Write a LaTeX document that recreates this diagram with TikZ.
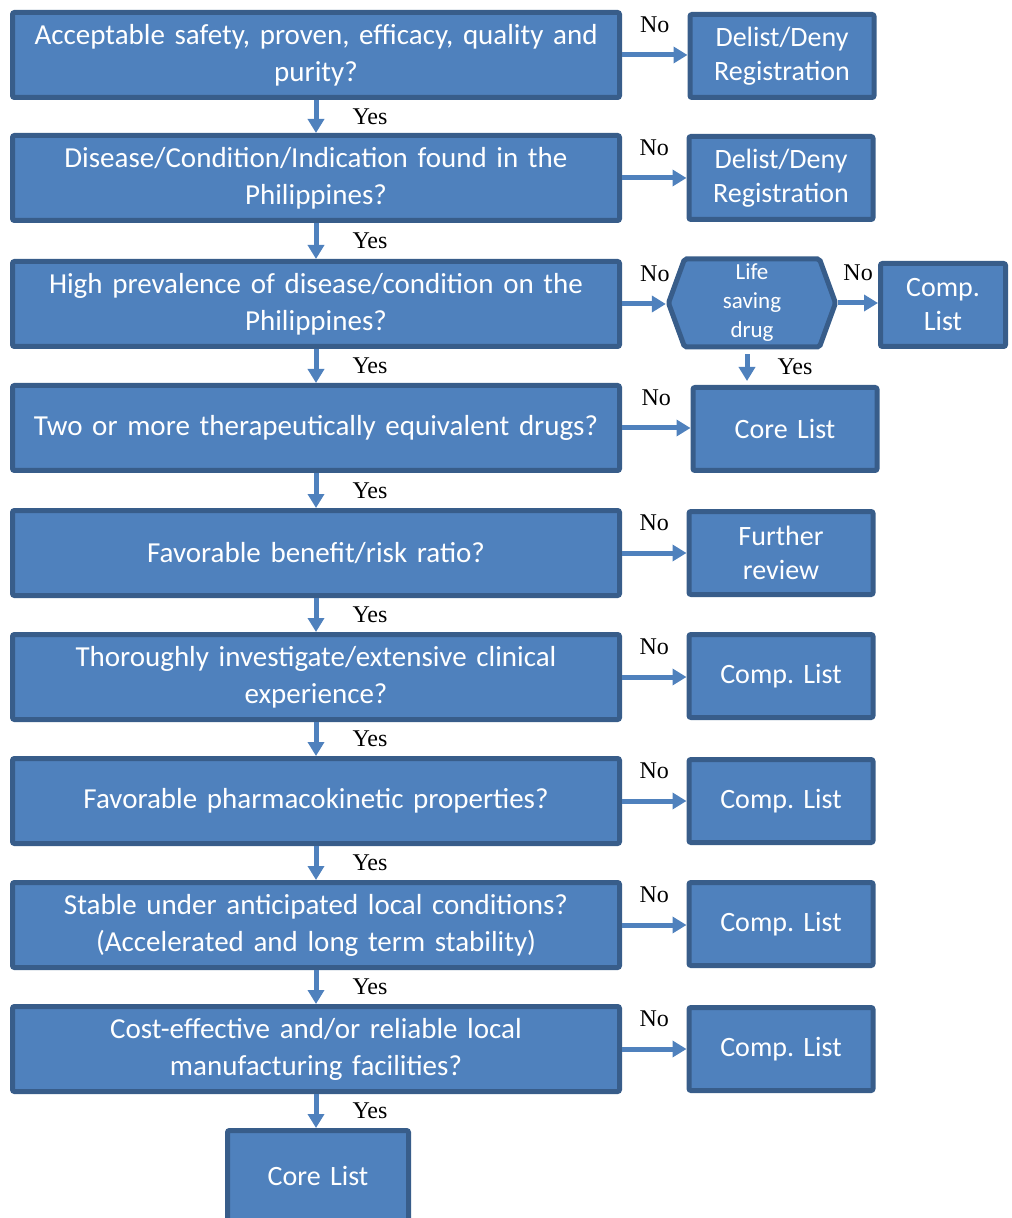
\documentclass[tikz,border=0pt]{standalone}
\usepackage{fontspec}
\setmainfont{Carlito}
\newfontfamily\answerfont{Liberation Serif}
\usepackage[HTML]{xcolor}
\usetikzlibrary{positioning, arrows.meta, shapes.symbols}
\definecolor{boxfill}{HTML}{4F81BD}
\definecolor{boxline}{HTML}{385D8A}
\frenchspacing

\begin{document}
\begin{tikzpicture}[x=0.5pt, y=-0.5pt,
  block/.style={draw=boxline, fill=boxfill, line width=2.5pt, rounded corners=1pt,
    text=white, align=center, inner sep=0pt},
  question/.style={block, minimum width=303.5pt, minimum height=42.5pt, text width=300pt,
    font=\fontsize{14.5}{18.5}\selectfont},
  outcome/.style={block, minimum width=92pt, minimum height=41.5pt, text width=90pt,
    font=\fontsize{14}{17}\selectfont},
  flow/.style={draw=boxfill, line width=2.5pt, -{Triangle[width=8pt,length=7pt]}},
  answer/.style={inner sep=0pt, font=\answerfont\fontsize{12}{14}\selectfont}]

\useasboundingbox (0,0) rectangle (1011,1218);

% --- Questions ---
\node[question] (q1) at (316,55)   {Acceptable safety, proven, efficacy, quality and\\purity?};
\node[question] (q2) at (316,178)  {Disease/Condition/Indication found in the\\Philippines?};
\node[question] (q3) at (316,304)  {High prevalence of disease/condition on the\\Philippines?};
\node[question] (q4) at (316,428)  {Two or more therapeutically equivalent drugs?};
\node[question] (q5) at (316,553)  {Favorable benefit/risk ratio?};
\node[question] (q6) at (316,677)  {Thoroughly investigate/extensive clinical\\experience?};
\node[question] (q7) at (316,801)  {Favorable pharmacokinetic properties?};
\node[question] (q8) at (316,925)  {Stable under anticipated local conditions?\\(Accelerated and long term stability)};
\node[question] (q9) at (316,1049) {Cost-effective and/or reliable local\\manufacturing facilities?};

% --- Outcomes ---
\node[outcome] (o1) at (782,56)   {Delist/Deny\\Registration};
\node[outcome] (o2) at (781,178)  {Delist/Deny\\Registration};
\node[block, signal, signal to=west and east, signal pointer angle=140,
  minimum width=83.5pt, minimum height=44pt, text width=60pt,
  font=\fontsize{11.5}{14.5}\selectfont] (life) at (752,303) {Life\\saving\\drug};
\node[outcome, minimum width=62.5pt, text width=60pt] (o3) at (943,305) {Comp.\\List};
\node[outcome] (o4) at (785,429)  {Core List};
\node[outcome] (o5) at (781,553)  {Further\\review};
\node[outcome] (o6) at (781,676)  {Comp. List};
\node[outcome] (o7) at (781,801)  {Comp. List};
\node[outcome] (o8) at (781,924)  {Comp. List};
\node[outcome] (o9) at (781,1049) {Comp. List};
\node[outcome, minimum width=90.5pt, minimum height=45.5pt] (core) at (318,1176) {Core List};

% --- Yes arrows ---
\draw[flow] (q1) -- (q2) node[answer, midway, right=17pt] (y1) {Yes};
\draw[flow] (q2) -- (q3) node[answer, midway, right=17pt] (y2) {Yes};
\draw[flow] (q3) -- (q4) node[answer, midway, right=17pt] (y3) {Yes};
\draw[flow] (q4) -- (q5) node[answer, midway, right=17pt] (y4) {Yes};
\draw[flow] (q5) -- (q6) node[answer, midway, right=17pt] (y5) {Yes};
\draw[flow] (q6) -- (q7) node[answer, midway, right=17pt] (y6) {Yes};
\draw[flow] (q7) -- (q8) node[answer, midway, right=17pt] (y7) {Yes};
\draw[flow] (q8) -- (q9) node[answer, midway, right=17pt] (y8) {Yes};
\draw[flow] (q9.south) -- (q9.south |- core.north) node[answer, midway, right=17pt] (y9) {Yes};
\draw[flow, shorten <=2.5pt, shorten >=2pt] ([xshift=-2.5pt]life.south) -- ([xshift=-2.5pt]life.south |- o4.north)
  node[answer, midway, right=14pt] (ylife) {Yes};

% --- No arrows ---
\draw[flow] (q1.east) -- (q1.east -| o1.west) node[answer, midway, above=10pt] (n1) {No};
\draw[flow] (q2.east) -- (q2.east -| o2.west) node[answer, midway, above=10pt] (n2) {No};
\draw[flow] (q3.east) -- (q3.east -| life.west) node[answer, pos=0.75, above=10pt] (n3) {No};
\draw[flow] (life.east) -- (life.east -| o3.west) node[answer, midway, above=10pt] (nlife) {No};
\draw[flow] (q4.east) -- (q4.east -| o4.west) node[answer, midway, above=10pt] (n4) {No};
\draw[flow] (q5.east) -- (q5.east -| o5.west) node[answer, midway, above=10pt] (n5) {No};
\draw[flow] (q6.east) -- (q6.east -| o6.west) node[answer, midway, above=10pt] (n6) {No};
\draw[flow] (q7.east) -- (q7.east -| o7.west) node[answer, midway, above=10pt] (n7) {No};
\draw[flow] (q8.east) -- (q8.east -| o8.west) node[answer, midway, above=10pt] (n8) {No};
\draw[flow] (q9.east) -- (q9.east -| o9.west) node[answer, midway, above=10pt] (n9) {No};

\end{tikzpicture}
\end{document}
